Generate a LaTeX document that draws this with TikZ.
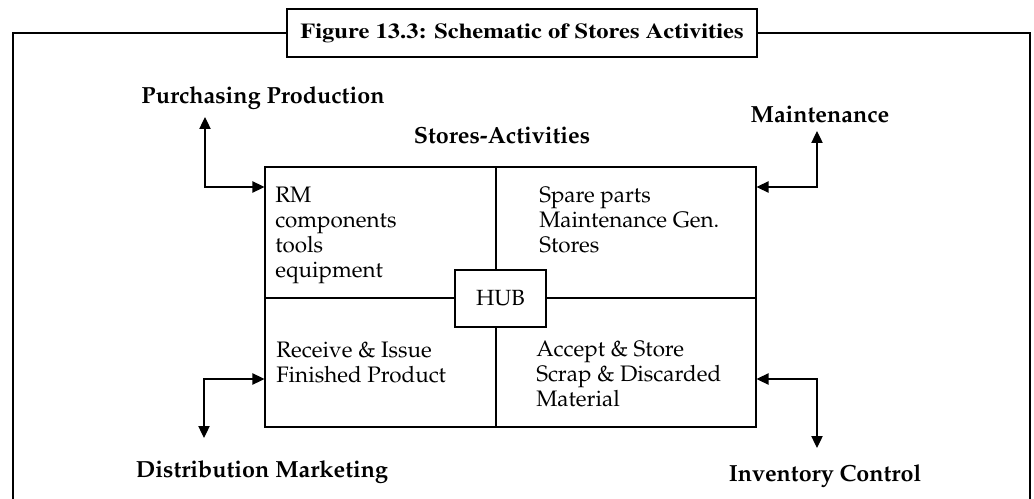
\documentclass[tikz,border=0pt]{standalone}
\usepackage[T1]{fontenc}
\usepackage{mathpazo}
\usepackage{graphicx}
\usepackage{tikz}
\usetikzlibrary{arrows.meta, positioning}

\newcommand{\titlefont}{\fontfamily{ptm}\fontseries{b}\fontsize{16}{18}\selectfont}

\begin{document}
\begin{tikzpicture}[
    x=0.75pt, y=-0.75pt,
    >={Triangle[length=9pt, width=8.5pt]},
    frame/.style={line width=1.4pt},
    storebox/.style={draw, line width=0.8pt, minimum width=368.25pt, minimum height=195pt, inner sep=0pt},
    hubbox/.style={draw, line width=0.8pt, minimum width=68.25pt, minimum height=42.75pt, font=\fontsize{16.5}{18}\selectfont},
    quad/.style={anchor=north west, align=left, inner sep=0pt, font=\fontsize{16.8}{18.75}\selectfont},
    dept/.style={inner sep=0pt, font=\fontsize{17.5}{20}\selectfont\bfseries},
    link/.style={<->, line width=0.9pt},
]
    \useasboundingbox (0,0) rectangle (1034,499);

    % Title and frame
    \node[draw, frame, minimum width=352.5pt, minimum height=36pt, font=\titlefont] (title) at (522,33)
        {\scalebox{1.15}[1]{Figure 13.3: Schematic of Stores Activities}};
    \draw[frame] (13,499) |- (title.west);
    \draw[frame] (title.east) -| (1030,499);

    % Store box and hub
    \node[storebox] (store) at (510.5,297) {};
    \node[hubbox, fill=white] (hub) at (500.5,298.5) {HUB};
    \coordinate (vmid) at (496,298);
    \draw[line width=0.8pt] (store.west |- vmid) -- (hub.west |- vmid);
    \draw[line width=0.8pt] (hub.east |- vmid) -- (store.east |- vmid);
    \draw[line width=0.8pt] (store.north -| vmid) -- (hub.north -| vmid);
    \draw[line width=0.8pt] (hub.south -| vmid) -- (store.south -| vmid);

    \node[dept, anchor=base] (acts) at (502,143) {Stores-Activities};

    % Quadrant texts
    \node[quad] (rm) at (275,187) {RM\\components\\tools\\equipment};
    \node[quad] (spare) at (539,187) {Spare parts\\Maintenance Gen.\\Stores};
    \node[quad] (recv) at (276,342) {Receive \& Issue\\Finished Product};
    \node[quad] (accept) at (536,341) {Accept \& Store\\Scrap \& Discarded\\Material};

    % Departments
    \node[dept, anchor=base] (purch) at (263,104) {Purchasing Production};
    \node[dept, anchor=base] (maint) at (820,123) {Maintenance};
    \node[dept, anchor=base] (distr) at (262,477) {Distribution Marketing};
    \node[dept, anchor=base] (invent) at (825,481) {Inventory Control};

    % Links
    \coordinate (purchTip) at (205,117);
    \coordinate (maintTip) at (817,131);
    \coordinate (distrTip) at (204,438);
    \coordinate (inventTip) at (817,448);
    \draw[link] (purchTip) |- (store.west |- 0,187);
    \draw[link] (maintTip) |- (store.east |- 0,187);
    \draw[link] (distrTip) |- (store.west |- 0,379);
    \draw[link] (inventTip) |- (store.east |- 0,379);
\end{tikzpicture}
\end{document}
